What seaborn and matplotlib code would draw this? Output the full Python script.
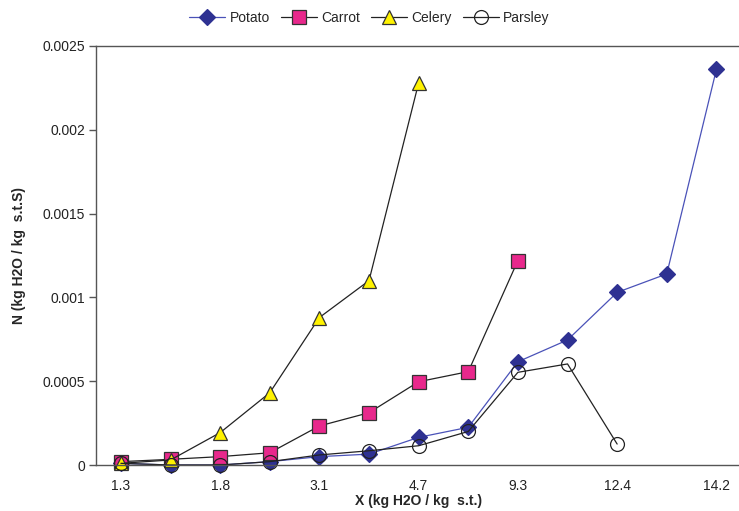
# N vs X drying curves for four vegetables
import matplotlib
matplotlib.use('Agg')
import matplotlib.pyplot as plt
import seaborn as sns
import pandas as pd
import numpy as np

# category axis: 13 positions, label on every second one
x_labels = ['1.3', '1.8', '3.1', '4.7', '9.3', '12.4', '14.2']
n_cats = 13

potato = [0.00001, 0.0, 0.0, 0.00002, 0.00005, 0.000065, 0.000165, 0.000225,
          0.000616, 0.000746, 0.00103, 0.00114, 0.00236]
carrot = [0.00002, 0.000034, 0.00005, 0.000073, 0.000233, 0.000312, 0.000497,
          0.000557, 0.00122]
celery = [0.00001, 0.00003, 0.000193, 0.000431, 0.00088, 0.0011, 0.00228]
parsley = [0.00001, 0.0, 0.0, 0.00002, 0.00006, 0.000085, 0.000115, 0.0002,
           0.000553, 0.000603, 0.000125]

sns.set_style('white')
plt.rcParams['font.family'] = ['Liberation Sans', 'DejaVu Sans']

fig = plt.figure(figsize=(7.39, 5.11), dpi=100)
ax = fig.add_axes([0.130, 0.090, 0.873, 0.820])

series = [
    ('Potato', potato, 'D', '#4a52b8', '#2e3192', '#2e3192', 8),
    ('Carrot', carrot, 's', '#222222', '#e8288c', '#333333', 9.5),
    ('Celery', celery, '^', '#222222', '#fff200', '#333333', 10.5),
    ('Parsley', parsley, 'o', '#222222', 'white', '#222222', 10),
]

for name, vals, mk, lc, fc, ec, ms in series:
    d = pd.DataFrame({'x': np.arange(len(vals)), 'N': vals})
    sns.lineplot(data=d, x='x', y='N', ax=ax, label=name, color=lc,
                 linewidth=0.9, marker=mk, markersize=ms,
                 markerfacecolor=fc, markeredgecolor=ec, markeredgewidth=0.9,
                 clip_on=False)

# Parsley circles are drawn hollow in the reference
for line in ax.lines:
    if line.get_label() == 'Parsley':
        line.set_markerfacecolor('none')

ax.set_xlim(-0.5, n_cats - 0.5)
ax.set_ylim(0, 0.0025)
ax.set_yticks([0, 0.0005, 0.001, 0.0015, 0.002, 0.0025])
ax.set_yticklabels(['0', '0.0005', '0.001', '0.0015', '0.002', '0.0025'])

ax.set_xticks(np.arange(0, n_cats, 2))
ax.set_xticklabels(x_labels)
ax.tick_params(axis='x', which='major', length=0, pad=10, labelsize=10, colors='#222222')
ax.set_xticks([3.5, 7.5, 11.5], minor=True)
ax.tick_params(axis='x', which='minor', length=5, width=1, color='#555555', direction='out')
ax.tick_params(axis='y', length=5, width=1, color='#555555', direction='out',
               pad=3, labelsize=10, labelcolor='#222222', left=True)

for side in ['left', 'bottom', 'top']:
    ax.spines[side].set_color('#555555')
    ax.spines[side].set_linewidth(1.0)
ax.spines['right'].set_visible(False)

ax.set_xlabel('X (kg H2O / kg  s.t.)', fontsize=10, fontweight='bold', labelpad=1)
ax.set_ylabel('N (kg H2O / kg  s.t.S)', fontsize=10, fontweight='bold', labelpad=12)

ax.legend(loc='upper center', bbox_to_anchor=(0.5, 1.0), bbox_transform=fig.transFigure,
          ncol=4, frameon=False, fontsize=10, handlelength=2.6, columnspacing=0.8,
          handletextpad=0.3, borderaxespad=0.4)

fig.savefig('out.png', dpi=100)
